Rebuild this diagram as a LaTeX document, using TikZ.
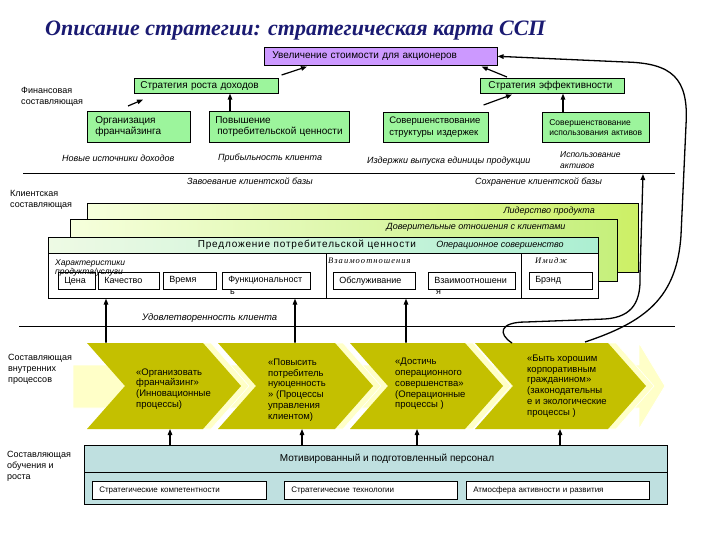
\documentclass[tikz,border=0pt]{standalone}
\usepackage{fontspec}
\setmainfont{Liberation Serif}
\setsansfont{Liberation Sans}
\usetikzlibrary{arrows.meta, calc}

\begin{document}
\begin{tikzpicture}[
    x=1pt, y=-1pt,
    every node/.style={font=\sffamily},
]

% ---------------------------------------------------------------- colours
\definecolor{c1}{HTML}{1A1A72}   % title
\definecolor{c2}{HTML}{CC99FF}   % shareholder value
\definecolor{c3}{HTML}{9CF59C}   % financial boxes
\definecolor{c4}{HTML}{C4C000}   % process chevrons
\definecolor{c5}{HTML}{FFFFC8}   % light side of the chevrons
\definecolor{c6}{HTML}{BFE0E0}   % learning and growth
\definecolor{limelight}{HTML}{F6FFDC}
\definecolor{limedark}{HTML}{CCF066}
\definecolor{mintlight}{HTML}{EEFAE4}
\definecolor{mintdark}{HTML}{ACEFD2}

% ---------------------------------------------------------------- styles
\tikzset{
    mapbox/.style={
        rectangle, draw=black, line width=0.6pt, anchor=north west,
        inner ysep=0pt, align=left,
    },
    gbox/.style={
        mapbox, fill=c3, font=\sffamily\fontsize{10}{11}\selectfont,
    },
    subbox/.style={
        mapbox, fill=white, minimum height=17pt, inner xsep=6pt,
        font=\sffamily\fontsize{9}{10}\selectfont,
    },
    sidelabel/.style={
        anchor=north west, align=left, inner sep=0pt,
        font=\sffamily\fontsize{9}{11}\selectfont,
    },
    themelabel/.style={
        anchor=west, inner sep=0pt,
        font=\sffamily\itshape\fontsize{9}{10}\selectfont,
    },
    ctext/.style={
        anchor=west, align=left, inner sep=0pt,
        font=\sffamily\fontsize{9.5}{10.8}\selectfont,
    },
    tinylabel/.style={
        anchor=west, inner sep=0pt,
        font=\rmfamily\itshape\fontsize{8.5}{9}\selectfont\addfontfeature{LetterSpace=12},
    },
    arr/.style={-{Triangle[length=6pt, width=4.5pt]}, line width=1.2pt},
    linkcurve/.style={line width=1.3pt},
    divline/.style={line width=0.8pt},
}

% ================================================================
% GEOMETRY (1pt = 1px, y grows downward)
%   financial      y = 47 .. 173
%   customer       y = 181 .. 326
%   processes      y = 343 .. 429 (chevrons)
%   learning       y = 445 .. 504
% ================================================================

\useasboundingbox (0,0) rectangle (720,540);
\fill[white] (0,0) rectangle (720,540);

\node[font=\rmfamily\bfseries\itshape\fontsize{22}{26}\selectfont, text=c1,
      anchor=base west, inner sep=0pt] (title) at (45,36)
    {Описание стратегии: стратегическая карта ССП};

% ---------------------------------------------------------------- financial
\node[mapbox, fill=c2, minimum width=233pt, minimum height=18pt,
      text width=217pt, inner xsep=8pt,
      font=\sffamily\fontsize{10}{11}\selectfont] (value) at (264,47)
    {Увеличение стоимости для акционеров};

\node[gbox, minimum height=15pt, text width=132pt, inner xsep=6pt] (srd)
    at (134,78) {Стратегия роста доходов};
\node[gbox, minimum height=15pt, text width=128pt, inner xsep=8pt] (sef)
    at (480,78) {Стратегия эффективности};

\node[gbox, minimum height=31pt, text width=87pt, inner xsep=8pt] (orgf)
    at (87,111) {Организация\\франчайзинга};
\node[gbox, minimum height=31pt, text width=128pt, inner xsep=6pt] (pov)
    at (209,111) {Повышение\\\hspace{2pt}потребительской ценности};
\node[gbox, minimum height=30pt, text width=99pt, inner xsep=3pt,
      font=\sffamily\fontsize{9.5}{11.5}\selectfont] (sovi)
    at (383,112) {\hspace{3pt}Совершенствование\\\hspace{3pt}структуры издержек};
\node[gbox, minimum height=30pt, text width=101pt, inner xsep=3pt,
      font=\sffamily\fontsize{8.5}{10}\selectfont] (sova)
    at (542,112) {\hspace{4pt}Совершенствование\\\hspace{4pt}использования активов};

\node[sidelabel] (finL) at (21,87) {Финансовая\\составляющая};

\coordinate (finTail) at (128,106);
\draw[arr] (finTail) -- ([xshift=9pt, yshift=-6pt]srd.south west);
\draw[arr] ([xshift=3pt, yshift=3pt]srd.north east)
    -- ([xshift=43pt, yshift=-1pt]value.south west);
\draw[arr] ([xshift=21pt]pov.north west) -- ([xshift=21pt]pov.north west |- srd.south);
\draw[arr] ([xshift=27pt, yshift=1pt]sef.north west)
    -- ([xshift=-16pt, yshift=-1pt]value.south east);
\draw[arr] ([xshift=-5pt, yshift=7pt]sovi.north east)
    -- ([xshift=32pt, yshift=-1pt]sef.south west);
\draw[arr] ([xshift=21pt]sova.north west) -- ([xshift=21pt]sova.north west |- sef.south);

\node[themelabel] (src) at (62,158) {Новые источники доходов};
\node[themelabel] (prof) at (218,158) {Прибыльность клиента};
\node[themelabel] (ucost) at (367,161) {Издержки выпуска единицы продукции};
\node[themelabel, align=left, font=\sffamily\itshape\fontsize{8.5}{11}\selectfont]
    (assets) at (560,160) {Использование\\активов};

\draw[divline] (23,173) -- (675,173);

% ---------------------------------------------------------------- customer
\node[themelabel] (win) at (187,181) {Завоевание клиентской базы};
\node[themelabel] (keep) at (475,182) {Сохранение клиентской базы};
\node[sidelabel] (cusL) at (10,190) {Клиентская\\составляющая};

\node[mapbox, minimum width=551pt, minimum height=69pt,
      left color=limelight, right color=limedark] (lead) at (87,203) {};
\node[mapbox, minimum width=547pt, minimum height=62pt,
      left color=limelight, right color=limedark!80!mintdark] (trust) at (70,219) {};
\node[mapbox, minimum width=550pt, minimum height=61pt, fill=white] (front)
    at (48,237) {};
\node[mapbox, minimum width=550pt, minimum height=16pt,
      left color=mintlight, right color=mintdark] (offer) at (48,237) {};

\node[themelabel, anchor=east] (leadT) at (595,211) {Лидерство продукта};
\node[themelabel, anchor=center] (trustT) at (476,227)
    {Доверительные отношения с клиентами};
\node[inner sep=0pt,
      font=\sffamily\fontsize{10}{11}\selectfont\addfontfeature{LetterSpace=8}]
    (offerT) at (307,245) {Предложение потребительской ценности};
\node[themelabel, anchor=center] (opT) at (500,245) {Операционное совершенство};

\draw[line width=0.6pt] (326,253) -- (326,298);
\draw[line width=0.6pt] (521,253) -- (521,298);

\foreach \x/\w/\t/\n in {58/25/Цена/price, 98/49/Качество/quality,
                         163/41/Время/time, 222/76/Функциональност/func,
                         333/70/Обслуживание/serv, 428/75/Взаимоотношени/rel,
                         529/51/Брэнд/brand} {
    \node[subbox, text width=\w pt] (\n) at (\x,272) {\t};
}
\node[anchor=north west, inner sep=0pt, font=\sffamily\fontsize{9}{10}\selectfont]
    (funcB) at ([xshift=8pt]func.south west) {ь};
\node[anchor=north west, inner sep=0pt, font=\sffamily\fontsize{9}{10}\selectfont]
    (relB) at ([xshift=8pt]rel.south west) {я};

\node[anchor=north west, align=left, inner sep=0pt,
      font=\sffamily\itshape\fontsize{8.5}{9}\selectfont] (charL) at (55,259)
    {Характеристики\\продукта/услуги};
\node[tinylabel] (relL) at (328,261) {Взаимоотношения};
\node[tinylabel] (imgL) at (535,261) {Имидж};

\foreach \x/\n in {106/1, 295/2, 406/3} {
    \coordinate (cf\n) at (\x,343);
    \draw[arr] (cf\n) -- (cf\n |- front.south);
}

\node[themelabel, font=\sffamily\itshape\fontsize{9.5}{10}\selectfont] (sat)
    at (142,318) {Удовлетворенность клиента};
\draw[divline] (19,326) -- (675,326);

% ---------------------------------------------------------------- processes
\node[sidelabel] (ipL) at (8,354) {Составляющая\\внутренних\\процессов};

% the big light arrow behind, then each chevron with its light side
\filldraw[c5, draw=white, line width=0.8pt]
    (73,365) -- (639,365) -- (639,343) -- (665,386) -- (639,429)
    -- (639,408) -- (73,408) -- cycle;
\foreach \a/\b in {87/203, 218/335, 350/465, 475/608} {
    \filldraw[c5, draw=white, line width=0.6pt, xshift=8pt]
        (\a,343) -- (\b,343) -- (\b+38,386) -- (\b,429) -- (\a,429)
        -- (\a+38,386) -- cycle;
    \fill[c4]
        (\a,343) -- (\b,343) -- (\b+38,386) -- (\b,429) -- (\a,429)
        -- (\a+38,386) -- cycle;
}

\node[ctext] (ct1) at (136,389)
    {«Организовать\\франчайзинг»\\(Инновационные\\процессы)};
\node[ctext] (ct2) at (268,390)
    {«Повысить\\потребитель\\нуюценность\\» (Процессы\\управления\\клиентом)};
\node[ctext] (ct3) at (395,384)
    {«Достичь\\операционного\\совершенства»\\(Операционные\\процессы )};
\node[ctext] (ct4) at (527,386)
    {«Быть хорошим\\корпоративным\\гражданином»\\(законодательны\\е и экологические\\процессы )};

% ---------------------------------------------------------------- learning
\node[sidelabel] (lgL) at (7,451) {Составляющая\\обучения и\\роста};

\node[mapbox, minimum width=583pt, minimum height=59pt, fill=c6] (learn)
    at (84,445) {};
\draw[line width=0.6pt] (84,472) -- (667,472);
\node[inner sep=0pt, font=\sffamily\fontsize{10}{11}\selectfont] (staff)
    at (387,459) {Мотивированный и подготовленный персонал};

\foreach \x/\w/\t/\n in {92/160/Стратегические компетентности/comp,
                         284/159/Стратегические технологии/tech,
                         466/169/Атмосфера активности и развития/clim} {
    \node[mapbox, fill=white, minimum height=18pt, inner xsep=7pt,
          text width=\w pt, font=\sffamily\fontsize{8}{9}\selectfont]
        (\n) at (\x,481) {\t};
}

\foreach \x/\n in {170/1, 302/2, 417/3, 560/4} {
    \coordinate (cb\n) at (\x,429);
    \draw[arr] (learn.north -| cb\n) -- (cb\n);
}

% ---------------------------------------------------------------- links
\coordinate (c4top) at (512,343);
\coordinate (keepTip) at (643,174);
\draw[linkcurve, -{Triangle[length=6pt, width=4.5pt]}]
    (c4top) .. controls (498,334) and (499,322) .. (526,322)
    -- (605,319) .. controls (634,317) and (641,300) .. (640,275) -- (keepTip);

\coordinate (c4top2) at (585,342);
\draw[linkcurve, -{Triangle[length=6pt, width=4.5pt]}]
    (c4top2) .. controls (645,322) and (677,298) .. (681,235)
    -- (686,125) .. controls (689,78) and (672,63) .. (625,62) -- (value.east);

\end{tikzpicture}
\end{document}
